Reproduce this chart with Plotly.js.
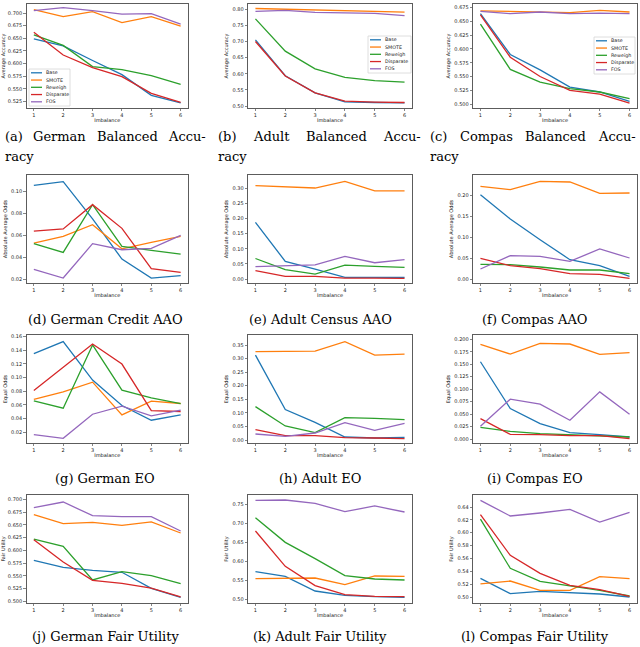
<!DOCTYPE html>
<html><head><meta charset="utf-8">
<script src="https://cdn.plot.ly/plotly-3.0.1.min.js"></script>
<style>html,body{margin:0;padding:0;background:#fff}#chart{width:640px;height:647px}</style>
</head><body><div id="chart"></div>
<script>
// ---------- DATA ----------
const imbalance = [1, 2, 3, 4, 5, 6];
const methods = ['Base', 'SMOTE', 'Reweigh', 'Disparate', 'FOS'];
const methodColors = ['#1f77b4', '#ff7f0e', '#2ca02c', '#d62728', '#9467bd'];

// (a) German Balanced Accuracy
const germanAccBase      = [0.649, 0.635, 0.606, 0.578, 0.537, 0.522];
const germanAccSMOTE     = [0.707, 0.693, 0.703, 0.681, 0.693, 0.674];
const germanAccReweigh   = [0.657, 0.636, 0.594, 0.588, 0.576, 0.559];
const germanAccDisparate = [0.662, 0.617, 0.592, 0.574, 0.541, 0.523];
const germanAccFOS       = [0.705, 0.711, 0.705, 0.698, 0.699, 0.678];
// (b) Adult Balanced Accuracy
const adultAccBase      = [0.705, 0.594, 0.541, 0.513, 0.511, 0.510];
const adultAccSMOTE     = [0.802, 0.800, 0.797, 0.795, 0.793, 0.791];
const adultAccReweigh   = [0.770, 0.670, 0.615, 0.589, 0.579, 0.574];
const adultAccDisparate = [0.700, 0.593, 0.541, 0.515, 0.512, 0.511];
const adultAccFOS       = [0.793, 0.796, 0.790, 0.789, 0.787, 0.780];
// (c) Compas Balanced Accuracy
const compasAccBase      = [0.664, 0.590, 0.562, 0.531, 0.522, 0.505];
const compasAccSMOTE     = [0.669, 0.668, 0.667, 0.666, 0.670, 0.667];
const compasAccReweigh   = [0.645, 0.563, 0.540, 0.528, 0.522, 0.510];
const compasAccDisparate = [0.662, 0.585, 0.550, 0.525, 0.518, 0.502];
const compasAccFOS       = [0.668, 0.664, 0.667, 0.664, 0.665, 0.664];
// (d) German Credit AAO
const germanAAOBase      = [0.1054, 0.1088, 0.0750, 0.0387, 0.0215, 0.0236];
const germanAAOSMOTE     = [0.0532, 0.0592, 0.0698, 0.0480, 0.0538, 0.0592];
const germanAAOReweigh   = [0.0526, 0.0447, 0.0879, 0.0502, 0.0466, 0.0432];
const germanAAODisparate = [0.0640, 0.0660, 0.0879, 0.0665, 0.0300, 0.0266];
const germanAAOFOS       = [0.0293, 0.0215, 0.0526, 0.0471, 0.0483, 0.0601];
// (e) Adult Census AAO
const adultAAOBase      = [0.1875, 0.0585, 0.0330, 0.0055, 0.0055, 0.0055];
const adultAAOSMOTE     = [0.3088, 0.3044, 0.3010, 0.3230, 0.2912, 0.2912];
const adultAAOReweigh   = [0.0680, 0.0310, 0.0165, 0.0460, 0.0420, 0.0386];
const adultAAODisparate = [0.0276, 0.0088, 0.0088, 0.0033, 0.0033, 0.0022];
const adultAAOFOS       = [0.0410, 0.0430, 0.0470, 0.0750, 0.0540, 0.0640];
// (f) Compas AAO
const compasAAOBase      = [0.2024, 0.1440, 0.0944, 0.0464, 0.0320, 0.0064];
const compasAAOSMOTE     = [0.2224, 0.2144, 0.2344, 0.2328, 0.2056, 0.2064];
const compasAAOReweigh   = [0.0352, 0.0344, 0.0288, 0.0216, 0.0216, 0.0128];
const compasAAODisparate = [0.0496, 0.0320, 0.0248, 0.0128, 0.0112, 0.0016];
const compasAAOFOS       = [0.0240, 0.0560, 0.0544, 0.0424, 0.0720, 0.0504];
// (g) German EO
const germanEOBase      = [0.1350, 0.1527, 0.0964, 0.0592, 0.0376, 0.0455];
const germanEOSMOTE     = [0.0680, 0.0792, 0.0934, 0.0455, 0.0655, 0.0621];
const germanEOReweigh   = [0.0660, 0.0553, 0.1478, 0.0817, 0.0704, 0.0621];
const germanEODisparate = [0.0812, 0.1150, 0.1492, 0.1199, 0.0518, 0.0504];
const germanEOFOS       = [0.0166, 0.0112, 0.0464, 0.0582, 0.0440, 0.0523];
// (h) Adult EO
const adultEOBase      = [0.3130, 0.1121, 0.0653, 0.0111, 0.0074, 0.0099];
const adultEOSMOTE     = [0.3254, 0.3254, 0.3278, 0.3623, 0.3130, 0.3167];
const adultEOReweigh   = [0.1232, 0.0518, 0.0271, 0.0826, 0.0801, 0.0752];
const adultEODisparate = [0.0382, 0.0160, 0.0160, 0.0086, 0.0074, 0.0049];
const adultEOFOS       = [0.0222, 0.0136, 0.0259, 0.0640, 0.0357, 0.0616];
// (i) Compas EO
const compasEOBase      = [0.1550, 0.0610, 0.0309, 0.0128, 0.0087, 0.0040];
const compasEOSMOTE     = [0.1900, 0.1705, 0.1920, 0.1906, 0.1698, 0.1732];
const compasEOReweigh   = [0.0235, 0.0154, 0.0107, 0.0087, 0.0074, 0.0040];
const compasEODisparate = [0.0410, 0.0094, 0.0087, 0.0067, 0.0067, 0.0007];
const compasEOFOS       = [0.0255, 0.0799, 0.0698, 0.0376, 0.0946, 0.0497];
// (j) German Fair Utility
const germanFUBase      = [0.5804, 0.5667, 0.5608, 0.5569, 0.5255, 0.5078];
const germanFUSMOTE     = [0.6699, 0.6523, 0.6549, 0.6490, 0.6556, 0.6340];
const germanFUReweigh   = [0.6222, 0.6078, 0.5418, 0.5582, 0.5503, 0.5346];
const germanFUDisparate = [0.6209, 0.5771, 0.5412, 0.5353, 0.5261, 0.5085];
const germanFUFOS       = [0.6837, 0.6948, 0.6680, 0.6660, 0.6660, 0.6379];
// (k) Adult Fair Utility
const adultFUBase      = [0.5731, 0.5607, 0.5220, 0.5106, 0.5070, 0.5053];
const adultFUSMOTE     = [0.5546, 0.5563, 0.5563, 0.5387, 0.5616, 0.5607];
const adultFUReweigh   = [0.7157, 0.6505, 0.6074, 0.5625, 0.5537, 0.5511];
const adultFUDisparate = [0.6805, 0.5872, 0.5361, 0.5123, 0.5079, 0.5070];
const adultFUFOS       = [0.7614, 0.7623, 0.7535, 0.7315, 0.7465, 0.7306];
// (l) Compas Fair Utility
const compasFUBase      = [0.5290, 0.5052, 0.5088, 0.5067, 0.5047, 0.5000];
const compasFUSMOTE     = [0.5203, 0.5249, 0.5104, 0.5104, 0.5317, 0.5285];
const compasFUReweigh   = [0.6213, 0.5446, 0.5244, 0.5176, 0.5104, 0.5016];
const compasFUDisparate = [0.6281, 0.5648, 0.5368, 0.5181, 0.5114, 0.5010];
const compasFUFOS       = [0.6504, 0.6260, 0.6307, 0.6364, 0.6167, 0.6317];

const xTitle = 'Imbalance';
const yTitles = ['Average Accuracy', 'Absolute Average Odds', 'Equal Odds', 'Fair Utility'];
const captions = [
  ['(a) German Balanced Accu-', 'racy'], ['(b) Adult Balanced Accu-', 'racy'], ['(c) Compas Balanced Accu-', 'racy'],
  ['(d) German Credit AAO'], ['(e) Adult Census AAO'], ['(f) Compas AAO'],
  ['(g) German EO'], ['(h) Adult EO'], ['(i) Compas EO'],
  ['(j) German Fair Utility'], ['(k) Adult Fair Utility'], ['(l) Compas Fair Utility']
];

// ---------- PANEL SETUP ----------
const panelSeries = [
  [germanAccBase, germanAccSMOTE, germanAccReweigh, germanAccDisparate, germanAccFOS],
  [adultAccBase, adultAccSMOTE, adultAccReweigh, adultAccDisparate, adultAccFOS],
  [compasAccBase, compasAccSMOTE, compasAccReweigh, compasAccDisparate, compasAccFOS],
  [germanAAOBase, germanAAOSMOTE, germanAAOReweigh, germanAAODisparate, germanAAOFOS],
  [adultAAOBase, adultAAOSMOTE, adultAAOReweigh, adultAAODisparate, adultAAOFOS],
  [compasAAOBase, compasAAOSMOTE, compasAAOReweigh, compasAAODisparate, compasAAOFOS],
  [germanEOBase, germanEOSMOTE, germanEOReweigh, germanEODisparate, germanEOFOS],
  [adultEOBase, adultEOSMOTE, adultEOReweigh, adultEODisparate, adultEOFOS],
  [compasEOBase, compasEOSMOTE, compasEOReweigh, compasEODisparate, compasEOFOS],
  [germanFUBase, germanFUSMOTE, germanFUReweigh, germanFUDisparate, germanFUFOS],
  [adultFUBase, adultFUSMOTE, adultFUReweigh, adultFUDisparate, adultFUFOS],
  [compasFUBase, compasFUSMOTE, compasFUReweigh, compasFUDisparate, compasFUFOS]
];
const yAxisCfg = [
  {range: [0.512, 0.718], tick0: 0.525, dtick: 0.025, fmt: '.3f'},
  {range: [0.494, 0.816], tick0: 0.50, dtick: 0.05, fmt: '.2f'},
  {range: [0.493, 0.6815], tick0: 0.50, dtick: 0.025, fmt: '.3f'},
  {range: [0.017, 0.1148], tick0: 0.02, dtick: 0.02, fmt: '.2f'},
  {range: [-0.013, 0.344], tick0: 0, dtick: 0.05, fmt: '.2f'},
  {range: [-0.0096, 0.2496], tick0: 0, dtick: 0.05, fmt: '.2f'},
  {range: [0.0043, 0.1624], tick0: 0.02, dtick: 0.02, fmt: '.2f'},
  {range: [-0.011, 0.387], tick0: 0, dtick: 0.05, fmt: '.2f'},
  {range: [-0.008, 0.2087], tick0: 0, dtick: 0.025, fmt: '.3f'},
  {range: [0.4967, 0.7085], tick0: 0.5, dtick: 0.025, fmt: '.3f'},
  {range: [0.4903, 0.7755], tick0: 0.5, dtick: 0.05, fmt: '.2f'},
  {range: [0.4907, 0.6587], tick0: 0.5, dtick: 0.02, fmt: '.2f'}
];

const W = 640, H = 647;
const px = v => v / W, py = v => 1 - v / H;
const colPx = [[26.5, 188], [248, 412], [473, 637]];
const rowPx = [[4, 108], [175, 283], [335, 443], [495, 603]];
const capRowY = [[136, 157], [320], [478], [636]];
const capColSpan = [[5, 205], [218, 420], [430, 635]];
const capColMid = [105, 320, 535];
const capFontFamily = 'DejaVu Serif';
const capFontSize = 13;

const tickFont = {family: 'DejaVu Sans, sans-serif', size: 5, color: '#222'};
const titleFont = {family: 'DejaVu Sans, sans-serif', size: 5, color: '#111'};
const data = [];
const layout = {
  width: W, height: H, margin: {l: 0, r: 0, t: 0, b: 0},
  paper_bgcolor: '#fff', plot_bgcolor: '#fff', showlegend: false,
  shapes: [], annotations: []
};

// measure word widths with the same SVG text engine Plotly uses
const svgNS = 'http://www.w3.org/2000/svg';
const measureSvg = document.createElementNS(svgNS, 'svg');
measureSvg.setAttribute('style', 'position:absolute;left:-9999px;top:0');
document.body.appendChild(measureSvg);
const measureText = (s) => {
  const t = document.createElementNS(svgNS, 'text');
  t.setAttribute('style', 'font-family:"' + capFontFamily + '",serif;font-size:' + capFontSize + 'px;white-space:pre');
  t.textContent = s;
  measureSvg.appendChild(t);
  const w = t.getComputedTextLength();
  measureSvg.removeChild(t);
  return w;
};
const capFont = {family: capFontFamily + ', serif', size: capFontSize, color: '#000'};

panelSeries.forEach((series, p) => {
  const r = Math.floor(p / 3), c = p % 3;
  const n = p + 1;
  const xa = 'xaxis' + (n === 1 ? '' : n), ya = 'yaxis' + (n === 1 ? '' : n);
  const xr = 'x' + (n === 1 ? '' : n), yr = 'y' + (n === 1 ? '' : n);
  series.forEach((vals, m) => {
    data.push({x: imbalance, y: vals, type: 'scatter', mode: 'lines', name: methods[m],
      xaxis: xr, yaxis: yr, line: {color: methodColors[m], width: 1.3}, showlegend: false});
  });
  const cfg = yAxisCfg[p];
  layout[xa] = {domain: [px(colPx[c][0]), px(colPx[c][1])], anchor: yr, range: [0.75, 6.25],
    tickvals: imbalance, ticks: 'outside', ticklen: 2.5, tickwidth: 0.6, tickcolor: '#333',
    tickfont: tickFont, showgrid: false, zeroline: false, showline: true, mirror: true,
    linecolor: '#333', linewidth: 0.8,
    title: {text: xTitle, font: titleFont, standoff: 1}};
  layout[ya] = {domain: [py(rowPx[r][1]), py(rowPx[r][0])], anchor: xr, range: cfg.range,
    tick0: cfg.tick0, dtick: cfg.dtick, tickformat: cfg.fmt, ticks: 'outside', ticklen: 2.5,
    tickwidth: 0.6, tickcolor: '#333', tickfont: tickFont, showgrid: false, zeroline: false,
    showline: true, mirror: true, linecolor: '#333', linewidth: 0.8,
    title: {text: yTitles[r], font: titleFont, standoff: 3}};
  // captions
  const cap = captions[p];
  if (cap.length > 1) {
    // first line justified across the column, following lines left-aligned
    const words = cap[0].split(' ');
    const widths = words.map(measureText);
    const total = capColSpan[c][1] - capColSpan[c][0];
    const gap = Math.max(3, (total - widths.reduce((a, b) => a + b, 0)) / (words.length - 1));
    let xpos = capColSpan[c][0];
    words.forEach((w, wi) => {
      layout.annotations.push({xref: 'paper', yref: 'paper', x: px(xpos), y: py(capRowY[r][0]),
        xanchor: 'left', yanchor: 'middle', showarrow: false, text: w, font: capFont, borderpad: 0, borderwidth: 0});
      xpos += widths[wi] + gap;
    });
    for (let li = 1; li < cap.length; li++) {
      layout.annotations.push({xref: 'paper', yref: 'paper', x: px(capColSpan[c][0]), y: py(capRowY[r][li]),
        xanchor: 'left', yanchor: 'middle', showarrow: false, text: cap[li], font: capFont, borderpad: 0, borderwidth: 0});
    }
  } else {
    layout.annotations.push({xref: 'paper', yref: 'paper', x: px(capColMid[c]), y: py(capRowY[r][0]),
      xanchor: 'center', yanchor: 'middle', showarrow: false, text: cap[0], font: capFont});
  }
});

// ---------- LEGENDS (first row) ----------
const legendBoxes = [[29, 69, 70, 106], [368, 36, 411, 73], [594, 37, 635, 74]];
legendBoxes.forEach(b => {
  layout.shapes.push({type: 'rect', xref: 'paper', yref: 'paper', x0: px(b[0]), x1: px(b[2]),
    y0: py(b[3]), y1: py(b[1]), line: {color: '#d5d5d5', width: 0.8}, fillcolor: 'rgba(255,255,255,0.85)', layer: 'above'});
  methods.forEach((name, i) => {
    const yy = b[1] + 3.8 + i * 7.25;
    layout.shapes.push({type: 'line', xref: 'paper', yref: 'paper', x0: px(b[0] + 2), x1: px(b[0] + 13),
      y0: py(yy), y1: py(yy), line: {color: methodColors[i], width: 1.3}, layer: 'above'});
    layout.annotations.push({xref: 'paper', yref: 'paper', x: px(b[0] + 15), y: py(yy),
      xanchor: 'left', yanchor: 'middle', showarrow: false, text: name,
      font: {family: 'DejaVu Sans, sans-serif', size: 4.8, color: '#222'}});
  });
});

Plotly.newPlot('chart', data, layout, {staticPlot: true, displayModeBar: false});
</script></body></html>
